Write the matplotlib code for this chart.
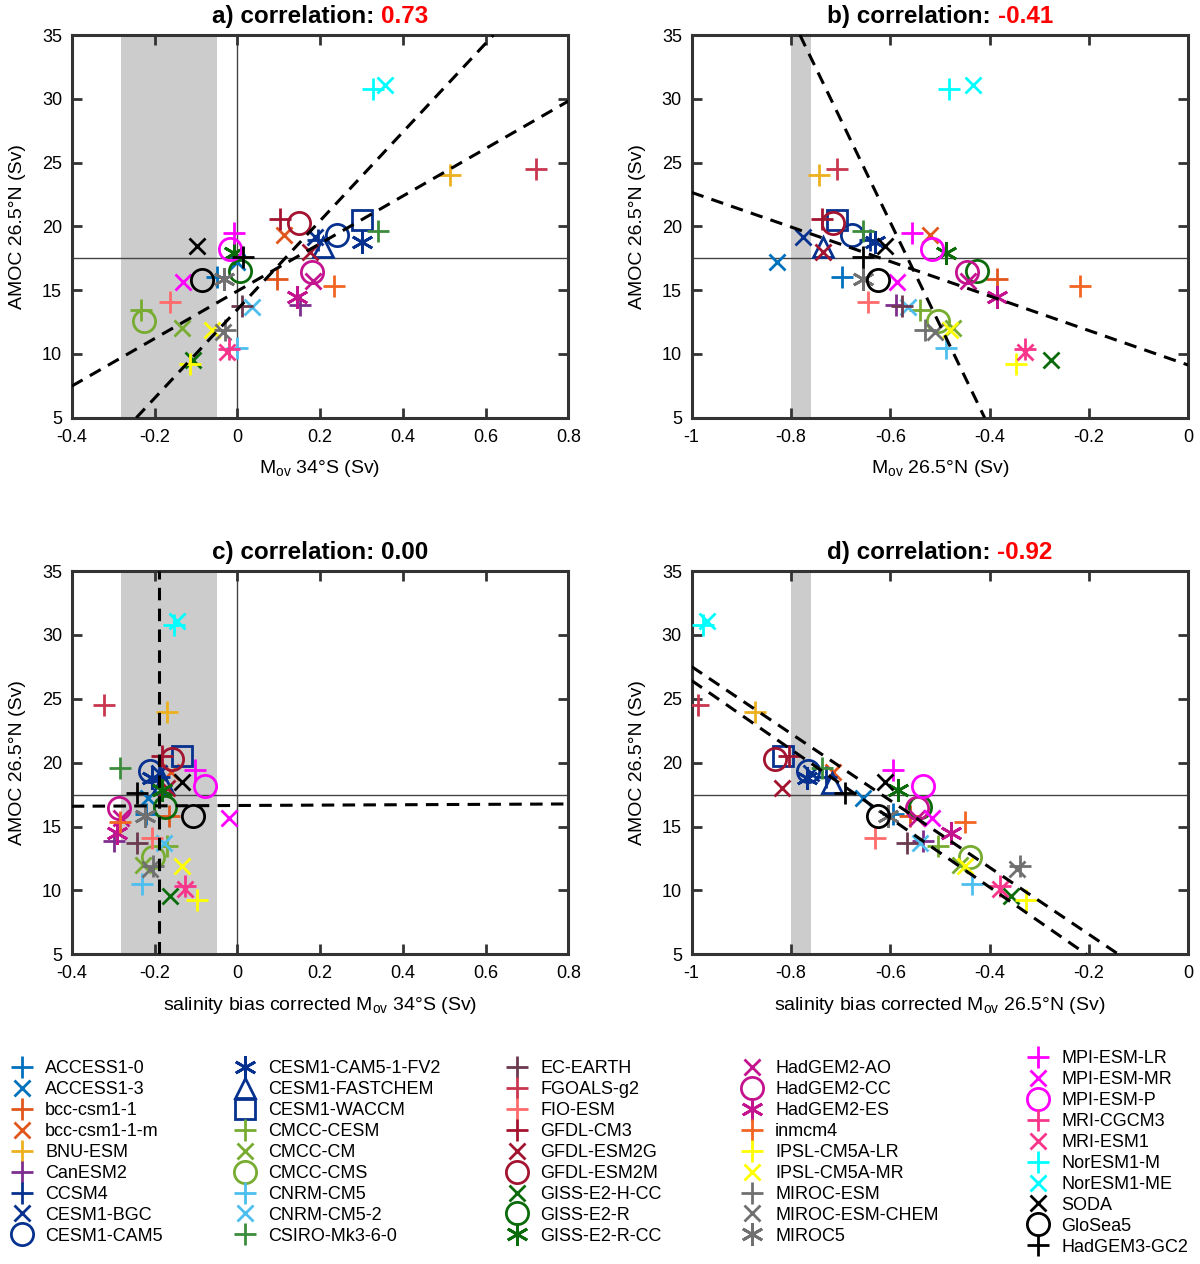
import matplotlib
matplotlib.use('Agg')
import matplotlib.pyplot as plt

plt.rcParams['font.family'] = ['Liberation Sans', 'DejaVu Sans']
plt.rcParams['mathtext.fontset'] = 'custom'
plt.rcParams['mathtext.rm'] = 'Liberation Sans'
plt.rcParams['mathtext.it'] = 'Liberation Sans:italic'
plt.rcParams['axes.unicode_minus'] = False
plt.rcParams['lines.scale_dashes'] = False

# ---------------- data ----------------
models = ['ACCESS1-0', 'ACCESS1-3', 'bcc-csm1-1', 'bcc-csm1-1-m', 'BNU-ESM', 'CanESM2',
          'CCSM4', 'CESM1-BGC', 'CESM1-CAM5', 'CESM1-CAM5-1-FV2', 'CESM1-FASTCHEM',
          'CESM1-WACCM', 'CMCC-CESM', 'CMCC-CM', 'CMCC-CMS', 'CNRM-CM5', 'CNRM-CM5-2',
          'CSIRO-Mk3-6-0', 'EC-EARTH', 'FGOALS-g2', 'FIO-ESM', 'GFDL-CM3', 'GFDL-ESM2G',
          'GFDL-ESM2M', 'GISS-E2-H-CC', 'GISS-E2-R', 'GISS-E2-R-CC', 'HadGEM2-AO',
          'HadGEM2-CC', 'HadGEM2-ES', 'inmcm4', 'IPSL-CM5A-LR', 'IPSL-CM5A-MR',
          'MIROC-ESM', 'MIROC-ESM-CHEM', 'MIROC5', 'MPI-ESM-LR', 'MPI-ESM-MR', 'MPI-ESM-P',
          'MRI-CGCM3', 'MRI-ESM1', 'NorESM1-M', 'NorESM1-ME', 'SODA', 'GloSea5',
          'HadGEM3-GC2']

symbols = ['+', 'x', '+', 'x', '+', '+',
           '+', 'x', 'o', '*', '^',
           's', '+', 'x', 'o', '+', 'x',
           '+', '+', '+', '+', '+', 'x',
           'o', 'x', 'o', '*', 'x',
           'o', '*', '+', '+', 'x',
           '+', 'x', '*', '+', 'x', 'o',
           '+', 'x', '+', 'x', 'x', 'o',
           '+']

colors = ['#0072BD', '#0072BD', '#E0561C', '#E0561C', '#EDB120', '#7E2F8E',
          '#06318F', '#06318F', '#06318F', '#06318F', '#06318F',
          '#06318F', '#77AC30', '#77AC30', '#77AC30', '#4DBEEE', '#4DBEEE',
          '#3C8C3C', '#6B3A4E', '#C8374E', '#FF6B6B', '#A2142F', '#A2142F',
          '#A2142F', '#0B6B0B', '#0B6B0B', '#0B6B0B', '#C4138F',
          '#C4138F', '#C4138F', '#F26522', '#FFFF00', '#FFFF00',
          '#707070', '#707070', '#707070', '#FF00FF', '#FF00FF', '#FF00FF',
          '#F7358A', '#F7358A', '#00FFFF', '#00FFFF', '#000000', '#000000',
          '#000000']

# AMOC at 26.5N (Sv)
amoc = [16.0, 17.2, 15.85, 19.3, 24.0, 13.85,
        18.9, 19.2, 19.35, 18.8, 18.4,
        20.5, 13.45, 12.0, 12.6, 10.5, 13.7,
        19.6, 13.75, 24.5, 14.1, 20.55, 18.0,
        20.3, 9.55, 16.5, 17.9, 15.7,
        16.45, 14.5, 15.35, 9.25, 11.9,
        11.9, 11.7, 15.85, 19.45, 15.65, 18.2,
        10.35, 10.15, 30.75, 31.1, 18.45, 15.8,
        17.6]

# Mov at 34S (Sv)
mov_34s = [-0.049, 0.000, 0.096, 0.112, 0.515, 0.152,
           0.195, 0.188, 0.241, 0.301, 0.208,
           0.301, -0.233, -0.134, -0.225, 0.000, 0.035,
           0.340, 0.011, 0.723, -0.162, 0.104, 0.176,
           0.148, -0.106, 0.007, -0.009, 0.184,
           0.180, 0.144, 0.233, -0.114, -0.061,
           -0.030, -0.035, -0.033, -0.009, -0.130, -0.017,
           -0.020, -0.025, 0.328, 0.358, -0.098, -0.086,
           0.015]

# Mov at 26.5N (Sv)
mov_26n = [-0.698, -0.828, -0.386, -0.520, -0.743, -0.589,
           -0.640, -0.775, -0.678, -0.631, -0.735,
           -0.708, -0.540, -0.473, -0.504, -0.487, -0.564,
           -0.654, -0.577, -0.707, -0.644, -0.738, -0.735,
           -0.715, -0.277, -0.426, -0.487, -0.443,
           -0.446, -0.386, -0.218, -0.346, -0.480,
           -0.530, -0.510, -0.655, -0.557, -0.587, -0.517,
           -0.329, -0.329, -0.481, -0.433, -0.611, -0.624,
           -0.655]

# salinity bias corrected Mov at 34S (Sv)
mov_34s_corr = [-0.220, -0.215, -0.166, -0.160, -0.170, -0.299,
                -0.190, -0.190, -0.211, -0.206, -0.180,
                -0.134, -0.170, -0.227, -0.203, -0.231, -0.178,
                -0.283, -0.243, -0.323, -0.206, -0.182, -0.170,
                -0.158, -0.162, -0.174, -0.182, -0.280,
                -0.287, -0.291, -0.283, -0.098, -0.134,
                -0.203, -0.210, -0.223, -0.102, -0.021, -0.078,
                -0.126, -0.126, -0.154, -0.145, -0.134, -0.106,
                -0.243]

# salinity bias corrected Mov at 26.5N (Sv)
mov_26n_corr = [-0.594, -0.655, -0.560, -0.715, -0.873, -0.534,
                -0.730, -0.760, -0.765, -0.768, -0.718,
                -0.816, -0.504, -0.460, -0.440, -0.436, -0.540,
                -0.738, -0.567, -0.987, -0.631, -0.805, -0.819,
                -0.832, -0.356, -0.540, -0.584, -0.547,
                -0.547, -0.477, -0.450, -0.326, -0.450,
                -0.339, -0.345, -0.604, -0.594, -0.517, -0.534,
                -0.379, -0.379, -0.977, -0.970, -0.611, -0.624,
                -0.691]

# regression lines: two points per line
lines_a = [((-0.244, 5.0), (0.619, 35.0)), ((-0.4, 7.48), (0.8, 29.82))]
lines_b = [((-0.782, 35.0), (-0.410, 5.0)), ((-1.0, 22.66), (0.0, 9.13))]
lines_c = [((-0.188, 5.0), (-0.188, 35.0)), ((-0.4, 16.59), (0.8, 16.77))]
lines_d = [((-1.0, 27.52), (-0.148, 5.2)), ((-1.0, 26.43), (-0.208, 5.08))]

band_34s = (-0.28, -0.05)
band_26n = (-0.80, -0.76)
amoc_obs = 17.5

corr_values = ['0.73', '-0.41', '0.00', '-0.92']
corr_colors = ['red', 'red', 'black', 'red']
panel_letters = ['a)', 'b)', 'c)', 'd)']

xticks_34s = [-0.4, -0.2, 0, 0.2, 0.4, 0.6, 0.8]
xticklabels_34s = ['-0.4', '-0.2', '0', '0.2', '0.4', '0.6', '0.8']
xticks_26n = [-1, -0.8, -0.6, -0.4, -0.2, 0]
xticklabels_26n = ['-1', '-0.8', '-0.6', '-0.4', '-0.2', '0']
yticks = [5, 10, 15, 20, 25, 30, 35]

xlabels = [r'M$_{\mathrm{ov}}$ 34°S (Sv)', r'M$_{\mathrm{ov}}$ 26.5°N (Sv)',
           r'salinity bias corrected M$_{\mathrm{ov}}$ 34°S (Sv)',
           r'salinity bias corrected M$_{\mathrm{ov}}$ 26.5°N (Sv)']
ylabel = 'AMOC 26.5°N (Sv)'

# ---------------- styling ----------------
marker_map = {'+': ('+', 15.5), 'x': ('x', 12), 'o': ('o', 16),
              '*': ((6, 2, 0), 16), '^': ('^', 15), 's': ('s', 14)}

W, H = 1200, 1264
fig = plt.figure(figsize=(W / 100, H / 100), dpi=100)

rects = [[0.0598, 0.6695, 0.4138, 0.3028],
         [0.5764, 0.6695, 0.4138, 0.3028],
         [0.0598, 0.2450, 0.4138, 0.3032],
         [0.5764, 0.2450, 0.4138, 0.3032]]

panel_x = [mov_34s, mov_26n, mov_34s_corr, mov_26n_corr]
panel_lines = [lines_a, lines_b, lines_c, lines_d]
spine_col = '#333333'

axes = []
handles = None
for k in range(4):
    ax = fig.add_axes(rects[k])
    axes.append(ax)
    is34 = k in (0, 2)
    if is34:
        ax.set_xlim(-0.4, 0.8)
        ax.set_xticks(xticks_34s)
        ax.set_xticklabels(xticklabels_34s)
        ax.axvspan(*band_34s, color='#cccccc', lw=0, zorder=0)
        ax.axvline(0, color='#444444', lw=1.0, zorder=1)
    else:
        ax.set_xlim(-1, 0)
        ax.set_xticks(xticks_26n)
        ax.set_xticklabels(xticklabels_26n)
        ax.axvspan(*band_26n, color='#cccccc', lw=0, zorder=0)
    ax.set_ylim(5, 35)
    ax.set_yticks(yticks)
    ax.axhline(amoc_obs, color='#444444', lw=1.0, zorder=1)

    hs = []
    xs = panel_x[k]
    for i, name in enumerate(models):
        m, ms = marker_map[symbols[i]]
        h, = ax.plot(xs[i], amoc[i], ls='none', marker=m, ms=ms,
                     mec=colors[i], mfc='none', mew=2.0, label=name, zorder=3)
        hs.append(h)
    if handles is None:
        handles = hs

    for p1, p2 in panel_lines[k]:
        ax.axline(p1, p2, color='black', lw=2.2, ls=(0, (9, 6)), zorder=4)

    ax.tick_params(direction='in', length=7, width=2, top=True, right=True,
                   labelsize=13, colors=spine_col, labelcolor='black')
    ax.tick_params(axis='x', pad=8)
    ax.tick_params(axis='y', pad=7)
    for s in ax.spines.values():
        s.set_linewidth(2.2)
        s.set_color(spine_col)

    ax.set_xlabel(xlabels[k], fontsize=14)
    ax.xaxis.set_label_coords(0.5, -0.105)
    ax.set_ylabel(ylabel, fontsize=14)
    ax.yaxis.set_label_coords(-0.092, 0.5)

# two-coloured titles
renderer = fig.canvas.get_renderer()
for k, ax in enumerate(axes):
    t1 = ax.annotate(panel_letters[k] + ' correlation: ', xy=(0.5, 1.0),
                     xycoords='axes fraction', xytext=(0, 9),
                     textcoords='offset points', ha='left', va='baseline',
                     fontsize=17.5, fontweight='bold')
    t2 = ax.annotate(corr_values[k], xy=(1, 0), xycoords=t1, ha='left',
                     va='bottom', fontsize=17.5, fontweight='bold',
                     color=corr_colors[k])
    w1 = t1.get_window_extent(renderer).width
    w2 = t2.get_window_extent(renderer).width
    t1.set_position((-(w1 + w2) / 2 * 72 / fig.dpi, 9))

# legend in five columns
col_sizes = [9, 9, 9, 9, 10]
col_left_px = [9, 232, 504, 739, 1025]
col_top_px = [1060, 1060, 1060, 1060, 1050]
start = 0
for c, n in enumerate(col_sizes):
    hs = handles[start:start + n]
    start += n
    fig.legend(handles=hs, loc='upper left',
               bbox_to_anchor=(col_left_px[c] / W, 1 - col_top_px[c] / H),
               bbox_transform=fig.transFigure, frameon=False,
               fontsize=13, numpoints=1, handlelength=1.4,
               handletextpad=0.6, labelspacing=0.22, borderpad=0,
               borderaxespad=0)

fig.savefig('out.png', dpi=100)
